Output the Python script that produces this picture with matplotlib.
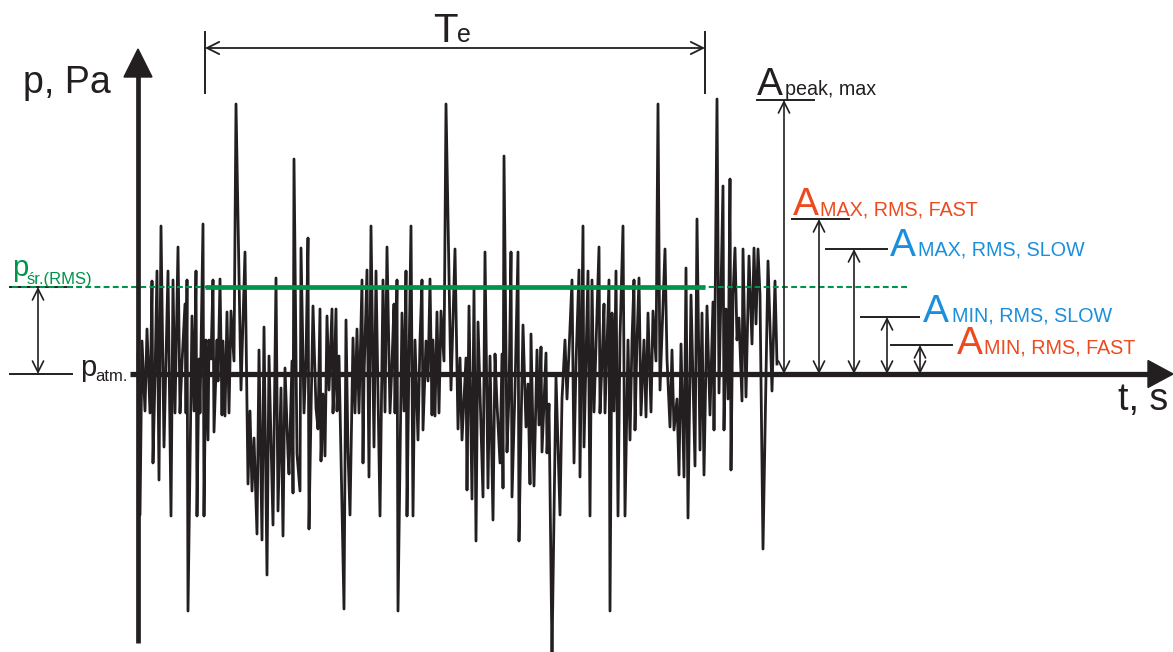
import matplotlib
matplotlib.use('Agg')
import matplotlib.pyplot as plt

plt.rcParams['font.family'] = ['Liberation Sans', 'DejaVu Sans']

# signal: time (ms, arbitrary origin) and pressure (Pa, relative to p_atm)
t = [0, 2, 4, 7, 9, 12, 14, 15, 17, 19, 21, 23, 26, 30, 33, 35, 37, 40, 42, 44,
     47, 48, 49, 50, 54, 56, 58, 59, 61, 62, 65, 66, 68, 70, 71, 73, 75, 76, 79, 80,
     82, 84, 85, 87, 89, 91, 93, 96, 98, 103, 107, 110, 112, 114, 116, 119, 121, 124, 126, 129,
     131, 135, 138, 140, 143, 145, 147, 150, 151, 154, 155, 156, 159,
     162, 163, 166, 168, 170, 171, 173, 175, 178, 180, 182, 183, 185, 187, 189, 191, 194, 195, 196, 198,
     199, 201, 206, 208, 210, 212, 215, 217, 219, 221, 224, 225, 226, 229, 231, 233, 236, 238, 242, 245,
     247, 249, 252, 254, 256, 257, 259, 260, 264, 266, 268, 269, 271, 273, 275, 277, 280, 282, 284, 285,
     288, 290, 292, 294, 295, 297, 299, 301, 303, 306, 308, 313, 317, 320,
     322, 324, 326, 328, 329, 331, 334, 336, 338, 340, 345, 347, 350, 352, 355, 357, 359, 362, 364, 365,
     366, 369, 371, 373, 374, 377, 380, 381, 383, 385, 388, 390, 392, 393, 396, 399, 401, 403, 404, 408,
     409, 411, 414, 418, 422, 424, 427, 429, 432, 434, 436, 438, 441, 442, 445, 446, 450, 452, 454, 456,
     461, 462, 464, 466, 467, 471, 472,
     474, 476, 478, 480, 482, 485, 487, 490, 492, 494, 496, 497, 499, 501, 503, 506, 508, 510, 513, 515,
     518, 520, 522, 527, 529, 532, 534, 536, 539, 541, 543, 546, 548, 550, 553, 557, 559, 562, 564, 566,
     569, 572, 575, 576, 579, 581, 585, 586, 588, 590, 592, 593, 595, 597, 599, 601, 604, 605, 608, 611,
     614, 616, 618, 620, 622, 625, 630, 634, 637, 639]
p = [2.0, -14.1, 3.3, -3.7, 4.5, -3.9, 9.3, -8.9, -0.3, 10.3, -10.6, 14.8, -7.3, 10.3, -14.2, 9.4, -3.9, 12.7, -3.9, 1.1,
     7.0, -3.9, 9.4, -23.7, 5.8, -3.7, 10.3, -14.2, 1.5, -3.9, 15.0, -14.2, 3.4, -6.6, 3.4, 1.5, 9.4, -5.8, 3.4, -0.7,
     9.5, -4.1, 3.3, -4.2, 6.2, -3.9, 6.3, 1.3, 27.0, -1.6, 12.2, -11.0, -3.7, -11.7, -6.4, -16.0, 2.4, -16.6, 4.7, -20.1,
     1.8, -15.1, 9.6, -13.7, -1.4, -16.2, 0.6, -8.0, -10.0, 1.3, -11.9, 21.5, -8.0,
     -11.7, 12.6, -3.9, 1.5, 13.6, -15.5, -3.9, 6.8, -3.4, -5.5, 6.5, -8.7, -2.0, -8.2, 5.8, -1.6, 6.5, -3.9, -1.5, 6.5,
     -3.7, 1.8, -23.5, 5.4, -7.8, -14.1, 3.6, -3.9, 4.5, -3.9, 9.4, -8.9, -0.3, 10.4, -10.3, 14.8, -7.3, 10.3, -14.2, 9.4,
     -3.8, 12.7, -3.9, 1.1, 7.0, -3.9, 9.4, -23.7, 6.1, -3.7, 10.3, -14.2, 1.5, 14.8, -14.2, 3.4, -6.6, 3.4, 9.4, -5.6,
     3.3, -0.7, 9.5, -4.1, 3.4, -4.2, 6.2, -3.9, 6.3, 1.3, 27.0, -1.6, 12.5, -5.5,
     1.6, -6.6, -2.5, 1.6, -11.6, 6.8, -12.5, 8.4, -16.7, 5.2, -12.3, 12.2, -11.4, 1.8, -14.6, 2.0, -3.0, -8.9, 2.0, -11.4,
     21.8, -7.8, -2.0, 12.2, -12.3, -1.5, 12.2, -16.7, -5.5, 4.9, -5.3, -1.0, -11.0, 4.0, -11.2, 2.4, -5.1, 2.7, -7.8, 2.1,
     -7.9, -3.0, -28.1, -0.3, -14.1, -2.5, 3.4, -2.5, 4.5, 9.4, -8.9, 1.0, 10.4, -10.3, 14.8, -7.3, 10.3, -14.2, 9.4, -3.8,
     12.7, -3.9, 1.1, 7.0, -3.9, 9.4, -23.7,
     6.1, -3.7, 10.3, -14.2, 3.6, 14.8, -14.2, 3.4, -6.6, 3.4, 9.4, -5.6, 3.3, 9.6, -4.1, 3.4, -4.3, 6.1, -3.8, 6.3,
     1.3, 27.0, -1.6, 12.5, 1.5, -5.3, 2.4, -5.6, -2.5, -10.1, 3.0, -10.3, 10.6, -14.4, 7.9, -9.2, 15.5, -7.6, 6.1, -10.1,
     6.8, -4.1, 7.2, -5.6, 27.5, -1.9, 18.8, -5.6, 6.5, -2.5, 19.5, -9.6, 7.9, 12.6, 3.4, 5.6, -2.7, 12.5, -2.3, 11.8,
     3.0, 12.6, 5.0, 12.5, 7.9, -17.5, 11.3, -1.7, 9.3, 1.0]

p_rms = 8.7
te_start, te_end = 67, 567
level_values = [27.4, 15.5, 12.5, 5.7, 2.9]
level_main = ['A', 'A', 'A', 'A', 'A']
level_subs = ['peak, max', 'MAX, RMS, FAST', 'MAX, RMS, SLOW', 'MIN, RMS, SLOW', 'MIN, RMS, FAST']

BLACK = '#231f20'
RED = '#ee4a1f'
BLUE = '#1a8fdc'
GREEN = '#00934a'
level_colors = [BLACK, RED, BLUE, BLUE, RED]

# layout of the level markers (t units)
arrow_t = [646, 681, 716, 749, 782]
line_t0 = [619, 654, 688, 723, 753]
line_t1 = [676, 711, 749, 781, 814]
main_t = [619, 655, 752, 785, 819]
sub_t = [647, 682, 780, 814, 846]
text_dp = [0.5, 0.4, -0.7, -0.45, -0.9]

fig = plt.figure(figsize=(11.73, 6.52), dpi=100)
ax = fig.add_axes([0, 0, 1, 1])
ax.set_xlim(-138, 1035)
ax.set_ylim(-27.8, 37.4)
ax.axis('off')

# signal
ax.plot(t, p, color=BLACK, lw=2.0, zorder=2)

# rms level
ax.plot([-126, 770], [p_rms, p_rms], color=GREEN, lw=1.5, dashes=(2.8, 1.6), zorder=3)
ax.plot([te_start, te_end], [p_rms, p_rms], color=GREEN, lw=3.4, solid_capstyle='butt', zorder=3)
ax.plot([-128, -66], [p_rms, p_rms], color=BLACK, lw=1.4, zorder=2)
ax.plot([-128, -66], [0, 0], color=BLACK, lw=1.4, zorder=2)
ax.annotate('', xy=(-100, p_rms), xytext=(-100, 0),
            arrowprops=dict(arrowstyle='<->', lw=1.2, color=BLACK, shrinkA=0, shrinkB=0, mutation_scale=20))

# axes with arrow heads
ax.plot([0, 0], [-26.9, 30.0], color=BLACK, lw=3.4, solid_capstyle='butt', zorder=4)
ax.fill([-14, 14, 0], [29.7, 29.7, 32.5], color=BLACK, zorder=4)
ax.plot([-8, 1012], [0, 0], color=BLACK, lw=3.8, solid_capstyle='butt', zorder=4)
ax.fill([1010, 1010, 1035], [-1.35, 1.35, 0], color=BLACK, zorder=4)

ax.text(-115, 28.1, 'p, Pa', fontsize=27, color=BLACK, ha='left', va='baseline')
ax.text(980, -3.6, 't, s', fontsize=27, color=BLACK, ha='left', va='baseline')

# p_atm and p_sr labels
ax.text(-58, -0.2, 'p', fontsize=21, color=BLACK, ha='left', va='baseline')
ax.text(-43, -0.7, 'atm.', fontsize=12, color=BLACK, ha='left', va='baseline')
ax.text(-126, 9.8, 'p', fontsize=21, color=GREEN, ha='left', va='baseline')
ax.text(-111, 9.0, 'śr.(RMS)', fontsize=12, color=GREEN, ha='left', va='baseline')

# T_e dimension
ax.annotate('', xy=(te_start, 32.6), xytext=(te_end, 32.6),
            arrowprops=dict(arrowstyle='<->', lw=1.3, color=BLACK, shrinkA=0, shrinkB=0, mutation_scale=22))
ax.plot([te_start, te_start], [28.1, 34.2], color=BLACK, lw=1.4)
ax.plot([te_end, te_end], [28.1, 34.2], color=BLACK, lw=1.4)
ax.text(295, 33.2, 'T', fontsize=29, color=BLACK, ha='left', va='baseline')
ax.text(319, 33.2, 'e', fontsize=18, color=BLACK, ha='left', va='baseline')

# amplitude levels
for i in range(len(level_values)):
    v = level_values[i]
    ax.plot([line_t0[i], line_t1[i]], [v, v], color=BLACK, lw=1.4)
    ax.annotate('', xy=(arrow_t[i], v), xytext=(arrow_t[i], 0),
                arrowprops=dict(arrowstyle='<->', lw=1.2, color=BLACK, shrinkA=0, shrinkB=0, mutation_scale=20))
    ax.text(main_t[i], v + text_dp[i], level_main[i], fontsize=28, color=level_colors[i], ha='left', va='baseline')
    ax.text(sub_t[i], v + text_dp[i], level_subs[i], fontsize=14.2, color=level_colors[i], ha='left', va='baseline')

fig.savefig('out.png', dpi=100)
